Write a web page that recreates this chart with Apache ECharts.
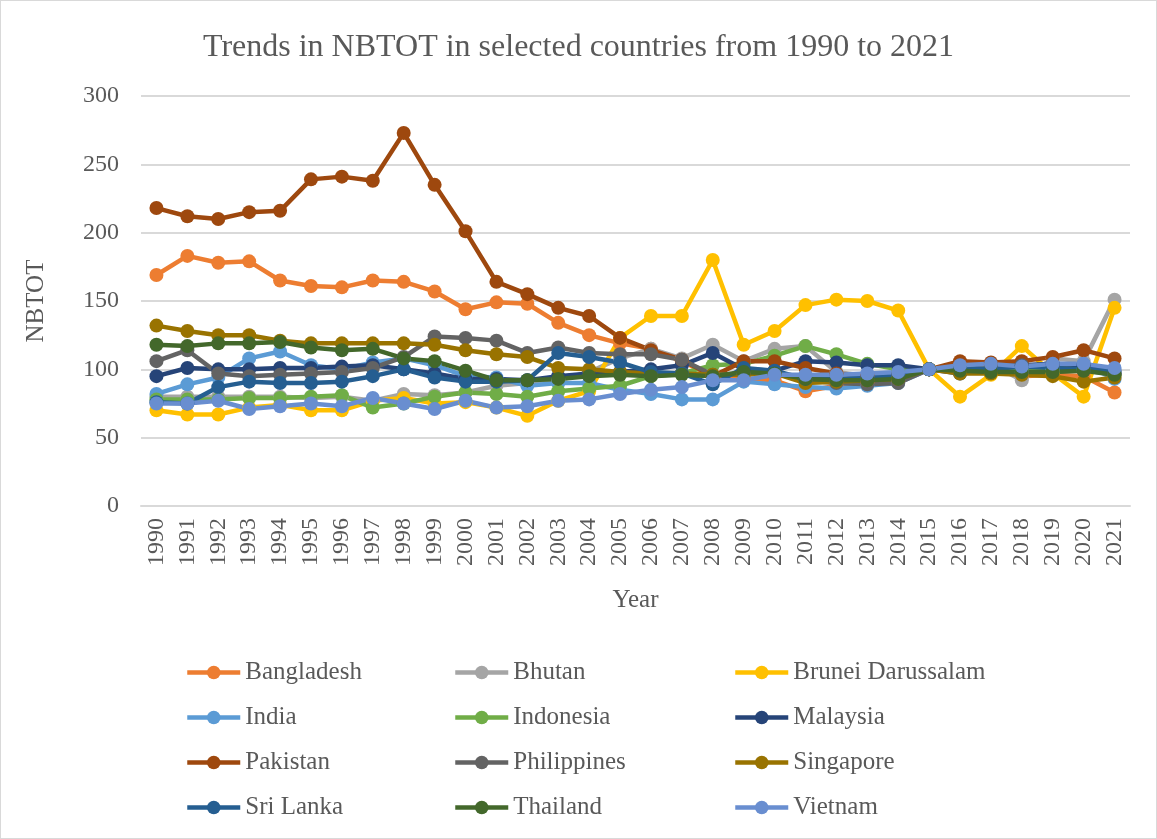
<!DOCTYPE html>
<html>
<head>
<meta charset="utf-8">
<script src="https://cdn.jsdelivr.net/npm/echarts@6/dist/echarts.min.js"></script>
<style>
  html, body { margin: 0; padding: 0; background: #fff; }
  #chart { width: 1155px; height: 837px; border: 1px solid #d9d9d9; }
</style>
</head>
<body>
<div id="chart"></div>
<script>
const years = ['1990', '1991', '1992', '1993', '1994', '1995', '1996', '1997', '1998', '1999',
  '2000', '2001', '2002', '2003', '2004', '2005', '2006', '2007', '2008', '2009',
  '2010', '2011', '2012', '2013', '2014', '2015', '2016', '2017', '2018', '2019',
  '2020', '2021']

const bangladesh = [169, 183, 178, 179, 165, 161, 160, 165, 164, 157, 144, 149, 148, 134, 125, 119, 115, 106, 95, 93, 92, 84, 88, 90, 91, 100, 103, 103, 95, 96, 95, 83]
const bhutan = [80, 80, 80, 80, 80, 79, 80, 77, 82, 81, 83, 88, 90, 92, 98, 108, 115, 108, 118, 106, 115, 117, 98, 95, 96, 100, 102, 104, 92, 108, 106, 151]
const brunei = [70, 67, 67, 72, 74, 70, 70, 77, 79, 75, 76, 72, 66, 77, 84, 123, 139, 139, 180, 118, 128, 147, 151, 150, 143, 100, 80, 96, 117, 97, 80, 145]
const india = [82, 89, 94, 108, 113, 103, 100, 105, 108, 103, 95, 94, 88, 90, 90, 85, 82, 78, 78, 91, 89, 87, 86, 88, 90, 100, 102, 103, 98, 100, 104, 93]
const indonesia = [78, 78, 78, 79, 79, 80, 81, 72, 75, 80, 83, 82, 80, 84, 86, 88, 95, 97, 103, 104, 110, 117, 111, 104, 100, 100, 101, 102, 101, 100, 100, 96]
const malaysia = [95, 101, 100, 100, 101, 101, 102, 103, 100, 97, 93, 93, 92, 95, 97, 98, 100, 103, 112, 100, 99, 106, 105, 103, 103, 100, 97, 104, 103, 104, 103, 97]
const pakistan = [218, 212, 210, 215, 216, 239, 241, 238, 273, 235, 201, 164, 155, 145, 139, 123, 114, 107, 95, 106, 106, 101, 97, 95, 96, 100, 106, 105, 106, 109, 114, 108]
const philippines = [106, 114, 97, 95, 96, 97, 98, 101, 109, 124, 123, 121, 112, 116, 112, 111, 111, 107, 96, 97, 97, 92, 90, 89, 90, 100, 98, 102, 103, 102, 99, 97]
const singapore = [132, 128, 125, 125, 121, 119, 119, 119, 119, 118, 114, 111, 109, 101, 100, 98, 97, 97, 96, 96, 97, 90, 91, 92, 93, 100, 97, 97, 96, 95, 91, 94]
const sriLanka = [76, 75, 87, 91, 90, 90, 91, 95, 100, 94, 91, 91, 92, 112, 109, 105, 98, 97, 89, 101, 99, 93, 93, 94, 96, 100, 101, 100, 102, 101, 100, 99]
const thailand = [118, 117, 119, 119, 120, 116, 114, 115, 108, 106, 99, 92, 92, 93, 95, 96, 95, 96, 95, 98, 97, 93, 92, 92, 93, 100, 99, 98, 98, 98, 99, 96]
const vietnam = [75, 75, 77, 71, 73, 75, 73, 79, 75, 71, 77, 72, 73, 77, 78, 82, 85, 87, 92, 92, 96, 96, 96, 97, 98, 100, 103, 104, 102, 104, 104, 101]

const countries = [
  ['Bangladesh', bangladesh, '#ED7D31'],
  ['Bhutan', bhutan, '#A5A5A5'],
  ['Brunei Darussalam', brunei, '#FFC000'],
  ['India', india, '#5B9BD5'],
  ['Indonesia', indonesia, '#70AD47'],
  ['Malaysia', malaysia, '#264478'],
  ['Pakistan', pakistan, '#9E480E'],
  ['Philippines', philippines, '#636363'],
  ['Singapore', singapore, '#997300'],
  ['Sri Lanka', sriLanka, '#255E91'],
  ['Thailand', thailand, '#43682B'],
  ['Vietnam', vietnam, '#698ED0'],
]

const font = 'Liberation Serif, Times New Roman, serif'
const textColor = '#595959'

// legend laid out in three columns like the original
const legendCol = (names, left) => ({
  data: names,
  left: left,
  top: 654,
  height: 240,
  orient: 'vertical',
  itemWidth: 53,
  itemHeight: 17,
  itemGap: 20,
  lineStyle: { width: 4.5 },
  textStyle: { fontFamily: font, fontSize: 25, color: textColor },
})

const chart = echarts.init(document.getElementById('chart'), null, { renderer: 'canvas' })

chart.setOption({
  animation: false,
  backgroundColor: '#fff',
  title: {
    text: 'Trends in NBTOT in selected countries from 1990 to 2021',
    left: 'center',
    top: 26,
    textStyle: { fontFamily: font, fontSize: 32, fontWeight: 'normal', color: textColor },
  },
  legend: [
    legendCol(['Bangladesh', 'India', 'Pakistan', 'Sri Lanka'], 179),
    legendCol(['Bhutan', 'Indonesia', 'Philippines', 'Thailand'], 447),
    legendCol(['Brunei Darussalam', 'Malaysia', 'Singapore', 'Vietnam'], 727),
  ],
  grid: { left: 140, right: 26, top: 95, bottom: 332 },
  xAxis: {
    type: 'category',
    data: years,
    boundaryGap: true,
    name: 'Year',
    nameLocation: 'middle',
    nameGap: 82,
    nameTextStyle: { fontFamily: font, fontSize: 25, color: textColor },
    axisLine: { lineStyle: { color: '#d9d9d9', width: 2 } },
    axisTick: { show: false },
    axisLabel: {
      rotate: 90,
      interval: 0,
      margin: 12,
      fontFamily: font,
      fontSize: 24,
      color: textColor,
    },
  },
  yAxis: {
    type: 'value',
    min: 0,
    max: 300,
    interval: 50,
    name: 'NBTOT',
    nameLocation: 'middle',
    nameGap: 92,
    nameRotate: 90,
    nameTextStyle: { fontFamily: font, fontSize: 25, color: textColor },
    axisLine: { show: false },
    axisTick: { show: false },
    axisLabel: { margin: 22, fontFamily: font, fontSize: 24, color: textColor },
    splitLine: { lineStyle: { color: '#d9d9d9', width: 2 } },
  },
  series: countries.map(([name, values, color]) => ({
    name: name,
    type: 'line',
    data: values,
    symbol: 'circle',
    symbolSize: 14,
    color: color,
    lineStyle: { width: 4.5, color: color },
    itemStyle: { color: color },
  })),
})
</script>
</body>
</html>
